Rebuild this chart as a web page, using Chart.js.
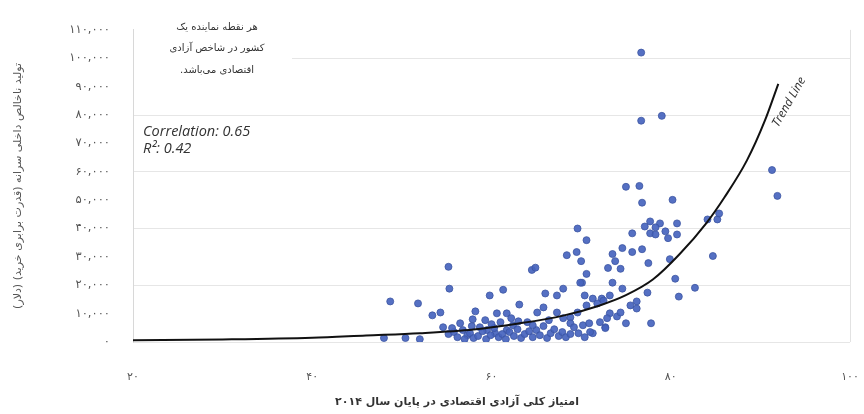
<!DOCTYPE html>
<html lang="fa">
<head>
<meta charset="utf-8">
<style>
  html, body { margin: 0; padding: 0; background: #ffffff; overflow: hidden; }
  #wrap { width: 864px; height: 414px; }
  canvas { display: block; }
</style>
<script src="https://cdn.jsdelivr.net/npm/chart.js@4.4.1/dist/chart.umd.min.js"></script>
</head>
<body>
<div id="wrap"><canvas id="chart" width="864" height="414" dir="rtl"></canvas></div>
<script>
// Economic freedom score (end of 2014) for each country
const freedomScore = [
  76.7, 76.7, 79.0, 91.3, 91.9, 75.0, 76.5, 76.8, 80.2, 84.1, 85.2, 85.4, 84.7, 82.7, 80.9, 80.5, 79.9,
  77.7, 78.8, 80.7, 77.1, 78.3, 77.7, 79.4, 80.7, 79.7, 78.3, 75.7,
  69.6, 70.6, 68.4, 69.5, 70.0, 70.6, 68.0, 70.1, 70.4, 71.3, 72.3, 73.2, 74.6, 74.6, 75.7, 76.8,
  73.5, 73.8, 73.0, 74.4, 77.5, 73.5, 77.4, 76.2, 76.2, 75.0, 77.8, 72.7, 71.3,
  55.2, 55.3, 64.5, 64.9, 48.7, 51.8, 53.4, 54.3, 54.6, 55.2, 48.0, 50.4, 52.0, 56.5, 56.8, 57.3,
  58.2, 59.8, 61.3, 63.1, 60.6, 61.7, 59.3, 58.7, 59.5, 60.4, 61.7, 62.4, 64.0, 65.1, 65.8, 66.0,
  67.3, 69.9, 67.3, 68.0, 68.8, 69.6, 70.6, 71.8, 72.5, 73.2, 72.9, 71.0, 72.7, 68.8, 57.9, 70.2,
  72.1, 74.0, 74.4, 75.5,
  55.8, 56.2, 57.0, 57.6, 58.0, 58.5, 59.0, 59.4, 59.9, 60.3, 60.8, 61.2, 61.6, 62.0, 62.5, 62.9,
  63.3, 63.7, 64.2, 64.6, 65.0, 65.4, 65.8, 66.2, 66.6, 67.0, 67.5, 67.9, 68.3, 68.8, 69.2, 69.7,
  70.4, 70.9, 63.0, 64.6, 66.4, 60.0, 61.0, 62.2, 57.8, 55.6
];

// GDP per capita, PPP (dollars), same order as freedomScore
const gdpPerCapita = [
  102000, 78000, 79700, 60600, 51500, 54700, 55000, 49100, 50100, 43200, 43200, 45300, 30300, 19100, 16000, 22300, 29200,
  42500, 41800, 41800, 40700, 40400, 38300, 39000, 37900, 36600, 37900, 38300,
  40000, 35900, 30600, 31700, 28500, 24000, 18800, 20900, 16400, 15300, 15300, 16400, 18800, 33100, 31700, 32700,
  31000, 28500, 26100, 25800, 27800, 20900, 17400, 14300, 11800, 6600, 6600, 5200, 3100,
  26500, 18800, 25400, 26200, 14300, 13600, 9400, 10400, 5200, 2800, 1400, 1400, 1000, 6600, 4200, 2400,
  10800, 16400, 18400, 13200, 10100, 10100, 7700, 5200, 4200, 3100, 4200, 5900, 7000, 10400, 12200, 17100,
  16400, 20900, 10400, 8400, 8700, 10400, 12900, 13600, 14600, 10100, 8400, 3500, 4900, 6600, 8000, 5900,
  7000, 9000, 10400, 12900,
  3500, 1700, 1000, 3100, 1400, 2100, 3800, 1000, 2400, 4900, 1700, 2800, 1000, 3500, 2100, 4500,
  1400, 2800, 3800, 1700, 4200, 2400, 5600, 1400, 3100, 4500, 2100, 3500, 1700, 2800, 5200, 3100,
  1700, 6600, 7300, 5900, 7700, 6300, 7000, 8400, 5600, 4900
];

// Trend line, sampled along the fitted curve
const trendScore = [20, 30, 40, 46, 52, 58, 63, 68, 72, 75, 78, 81, 84, 86, 88.5, 90.5, 92];
const trendGdp   = [600, 900, 1500, 2300, 3100, 4400, 6500, 9300, 12800, 16500, 22000, 31000, 42000, 51000, 64000, 78000, 91000];

// Tick labels (Persian digits)
const xTickLabels = ['۲۰', '۴۰', '۶۰', '۸۰', '۱۰۰'];
const yTickLabels = ['۰', '۱۰,۰۰۰', '۲۰,۰۰۰', '۳۰,۰۰۰', '۴۰,۰۰۰', '۵۰,۰۰۰', '۶۰,۰۰۰',
                     '۷۰,۰۰۰', '۸۰,۰۰۰', '۹۰,۰۰۰', '۱۰۰,۰۰۰', '۱۱۰,۰۰۰'];

// Texts
const xTitle = 'امتیاز کلی آزادی اقتصادی در پایان سال ۲۰۱۴';
const yTitle = 'تولید ناخالص داخلی سرانه (قدرت برابری خرید) (دلار)';
const noteLines = ['هر نقطه نماینده یک', 'کشور در شاخص آزادی', 'اقتصادی می‌باشد.'];
const statLines = ['Correlation: 0.65', 'R²: 0.42'];
const trendLabel = 'Trend Line';

const points = freedomScore.map((x, i) => ({ x: x, y: gdpPerCapita[i] }));
const trend = trendScore.map((x, i) => ({ x: x, y: trendGdp[i] }));

// Annotations: note box, statistics, trend label, x-axis title
const annotations = {
  id: 'annotations',
  beforeDatasetsDraw(chart) {
    const ctx = chart.ctx;
    ctx.save();
    ctx.fillStyle = '#ffffff';
    ctx.fillRect(134, 6, 158, 90);
    ctx.direction = 'rtl';
    ctx.fillStyle = '#333333';
    ctx.font = '10px "DejaVu Sans", sans-serif';
    ctx.textAlign = 'center';
    ctx.textBaseline = 'middle';
    noteLines.forEach((t, i) => ctx.fillText(t, 217, 27 + i * 21.5));
    ctx.restore();
  },
  afterDraw(chart) {
    const ctx = chart.ctx;
    ctx.save();
    ctx.direction = 'ltr';
    ctx.fillStyle = '#333333';
    ctx.font = 'italic 14.5px "Open Sans", sans-serif';
    ctx.textAlign = 'left';
    ctx.textBaseline = 'middle';
    statLines.forEach((t, i) => ctx.fillText(t, 143, 132 + i * 17));

    ctx.save();
    ctx.translate(789, 102);
    ctx.rotate(-60 * Math.PI / 180);
    ctx.font = 'italic 12px "Open Sans", sans-serif';
    ctx.textAlign = 'center';
    ctx.fillText(trendLabel, 0, 0);
    ctx.restore();

    ctx.direction = 'rtl';
    ctx.font = 'bold 11px "DejaVu Sans", sans-serif';
    ctx.fillStyle = '#333333';
    ctx.textAlign = 'center';
    ctx.fillText(xTitle, 457, 402);
    ctx.restore();
  }
};

new Chart(document.getElementById('chart'), {
  type: 'scatter',
  data: {
    datasets: [
      {
        label: 'trend',
        data: trend,
        showLine: true,
        borderColor: '#111111',
        borderWidth: 2,
        pointRadius: 0,
        cubicInterpolationMode: 'monotone',
        order: 0
      },
      {
        label: 'countries',
        data: points,
        pointRadius: 3.5,
        pointBackgroundColor: 'rgba(70, 100, 190, 0.92)',
        pointBorderColor: '#3c55a2',
        pointBorderWidth: 0.8,
        order: 1
      }
    ]
  },
  options: {
    responsive: false,
    animation: false,
    devicePixelRatio: 1,
    layout: { padding: { left: 8, right: 14, top: 26, bottom: 0 } },
    plugins: { legend: { display: false }, tooltip: { enabled: false } },
    scales: {
      x: {
        type: 'linear',
        min: 20,
        max: 100,
        afterFit(scale) {
          scale.height = 72;
          scale.paddingLeft = 0;
          scale.paddingRight = 0;
        },
        ticks: {
          stepSize: 20,
          padding: 29,
          maxRotation: 0,
          color: '#555555',
          font: { size: 11, family: '"DejaVu Sans", sans-serif' },
          callback: (v, i) => xTickLabels[i]
        },
        grid: {
          drawTicks: false,
          color: (c) => (c.tick && c.tick.value === 100) ? '#e2e2e2' : 'rgba(0,0,0,0)'
        },
        border: { display: false }
      },
      y: {
        type: 'linear',
        min: 0,
        max: 110000,
        afterFit(scale) { scale.width = 125; },
        ticks: {
          stepSize: 10000,
          padding: 23,
          color: '#555555',
          font: { size: 11.5, family: '"DejaVu Sans", sans-serif' },
          callback: (v, i) => yTickLabels[i]
        },
        grid: {
          drawTicks: false,
          color: (c) => (c.tick && c.tick.value % 20000 === 0) ? '#e6e6e6' : 'rgba(0,0,0,0)'
        },
        border: { display: true, color: '#d8d8d8' },
        title: {
          display: true,
          text: yTitle,
          color: '#555555',
          font: { size: 11, family: '"DejaVu Sans", sans-serif' },
          padding: { top: 4, bottom: 0 }
        }
      }
    }
  },
  plugins: [annotations]
});
</script>
</body>
</html>
